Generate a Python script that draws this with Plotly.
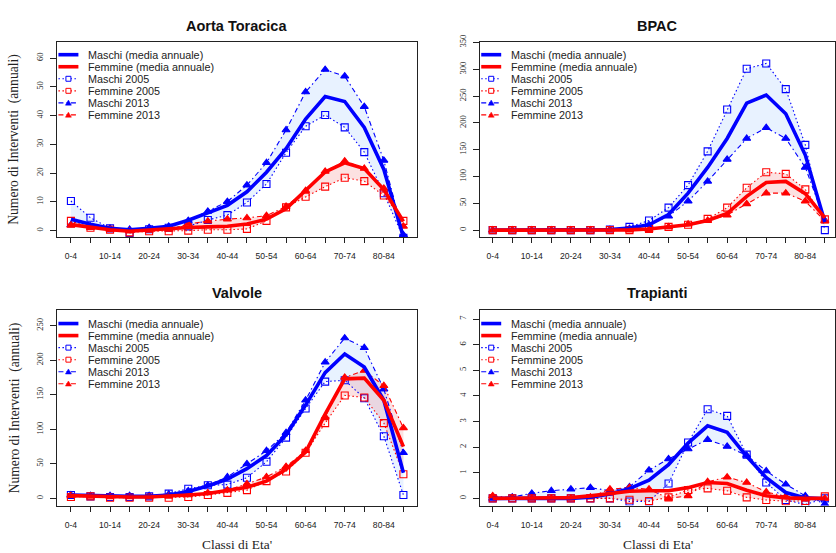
import plotly.graph_objects as go

# ---------------------------------------------------------------- data
age_groups = ["0-4", "5-9", "10-14", "15-19", "20-24", "25-29", "30-34", "35-39",
              "40-44", "45-49", "50-54", "55-59", "60-64", "65-69", "70-74",
              "75-79", "80-84", "85+"]
tick_labels = ["0-4", "", "10-14", "", "20-24", "", "30-34", "", "40-44", "",
               "50-54", "", "60-64", "", "70-74", "", "80-84", ""]

# Aorta Toracica
aorta_m_mean = [4.0, 2.2, 0.8, 0.3, 0.8, 1.5, 3.6, 6.1, 8.8, 13.5, 20.3, 28.5, 38.8, 46.6, 44.9, 35.9, 21.3, -2.3]
aorta_f_mean = [2.1, 1.2, 0.3, -0.2, 0.3, 0.6, 1.1, 1.3, 1.5, 2.3, 4.0, 7.6, 13.8, 20.4, 23.6, 21.6, 14.3, 3.2]
aorta_m_2005 = [10.3, 4.5, 0.8, -0.8, 0.5, 1.0, 1.5, 3.7, 5.4, 9.8, 16.2, 27.1, 36.3, 40.2, 35.9, 27.3, 13.0, -2.5]
aorta_f_2005 = [3.4, 1.0, 0.3, -0.6, -0.2, -0.2, 0.0, 0.3, 0.3, 0.6, 3.4, 8.1, 11.8, 15.3, 18.4, 17.2, 12.2, 3.4]
aorta_m_2013 = [2.0, 1.5, 0.8, 0.4, 1.0, 1.5, 3.5, 6.7, 10.1, 15.8, 23.6, 35.0, 48.2, 56.0, 53.7, 43.1, 24.4, -1.5]
aorta_f_2013 = [1.8, 1.0, 0.3, -0.2, 0.1, 0.4, 2.3, 3.3, 4.0, 4.4, 5.2, 8.4, 13.9, 20.6, 24.2, 21.6, 14.7, 1.5]

# BPAC
bpac_m_mean = [0, 0, 0, 0, 0, 0, 1, 4, 10, 29, 69, 117, 171, 237, 252, 217, 140, 15]
bpac_f_mean = [0, 0, 0, 0, 0, 0, 0, 0.5, 2, 6, 10, 18, 31, 63, 89, 91, 68, 23]
bpac_m_2005 = [0, 0, 0, 0, 0, 0, 1, 6, 18, 42, 84, 147, 225, 301, 311, 263, 159, 0]
bpac_f_2005 = [0, 0, 0, 0, 0, 0, 0, 0, 2, 6, 10, 21, 42, 79, 108, 105, 76, 20]
bpac_m_2013 = [0, 0, 0, 0, 0, 0, 1, 3, 10, 26, 54, 91, 132, 171, 191, 171, 117, 18]
bpac_f_2013 = [0, 0, 0, 0, 0, 0, 0, 0, 1, 6, 11, 18, 28, 49, 69, 69, 54, 17]

# Valvole
valv_m_mean = [5, 4, 3, 3, 3, 5, 10, 18, 28, 43, 62, 92, 135, 182, 209, 190, 142, 37]
valv_f_mean = [4, 3, 2, 2, 2, 3, 5, 7, 11, 16, 25, 42, 67, 122, 173, 174, 142, 75]
valv_m_2005 = [5, 3, 2, 2, 3, 7, 14, 19, 20, 30, 53, 88, 130, 169, 171, 145, 90, 5]
valv_f_2005 = [2, 3, 1, 1, 1, 1, 2, 5, 8, 12, 25, 39, 66, 109, 149, 146, 109, 35]
valv_m_2013 = [5, 4, 4, 4, 4, 6, 11, 19, 31, 50, 69, 95, 142, 197, 232, 218, 158, 66]
valv_f_2013 = [4, 3, 2, 2, 2, 3, 5, 8, 12, 21, 31, 46, 69, 118, 175, 185, 163, 102]

# Trapianti
trap_m_mean = [0, 0, 0, 0, 0, 0.05, 0.17, 0.38, 0.71, 1.32, 2.16, 2.83, 2.58, 1.64, 0.81, 0.23, 0.02, -0.02]
trap_f_mean = [0, 0, 0, 0, 0.03, 0.1, 0.18, 0.28, 0.3, 0.3, 0.42, 0.62, 0.58, 0.32, 0.1, 0.02, 0, 0]
trap_m_2005 = [0, 0, 0, 0, 0, 0, 0, -0.12, -0.12, 0.58, 2.18, 3.48, 3.22, 1.71, 0.62, -0.06, -0.24, 0]
trap_f_2005 = [0, 0, 0, 0, 0, 0, 0, -0.05, -0.1, 0.04, 0.33, 0.39, 0.3, 0.04, -0.06, -0.11, -0.1, 0.08]
trap_m_2013 = [0, 0.05, 0.2, 0.3, 0.36, 0.42, 0.3, 0.45, 1.1, 1.54, 1.93, 2.29, 2.03, 1.68, 1.07, 0.55, 0.1, -0.22]
trap_f_2013 = [0.1, 0.02, 0, 0, 0, 0.05, 0.36, 0.42, 0.36, 0, 0.1, 0.65, 0.83, 0.62, 0.25, 0.08, -0.03, 0]

legend_labels = ["Maschi (media annuale)", "Femmine (media annuale)", "Maschi 2005",
                 "Femmine 2005", "Maschi 2013", "Femmine 2013"]

# ---------------------------------------------------------------- layout helpers
W, H = 836, 553
BLUE, RED = "#0000FF", "#FF0000"
BLUE_FILL, RED_FILL = "rgba(100,170,255,0.15)", "rgba(235,80,80,0.17)"
DOT = "1.5px,2.5px"
DASHDOT = "5px,3px,1.5px,3px"
SANS = "Liberation Sans, Arial, sans-serif"
SERIF = "Liberation Serif, Times New Roman, serif"


def px(x):
    return x / W


def py(y):
    return 1 - y / H


# plot boxes in pixels: left, right, top, bottom
boxes = [(57, 417, 35, 233), (480.3, 836, 35, 233),
         (57, 417, 307.3, 505), (480.3, 836, 307.3, 505)]
x_ranges = [[-0.715, 17.67], [-0.665, 17.52], [-0.715, 17.67], [-0.665, 17.52]]
y_ranges = [[-2.23, 65.74], [-12.9, 351.8], [-10.4, 272.0], [-0.281, 7.335]]
y_ticks = [list(range(0, 61, 10)), list(range(0, 351, 50)),
           list(range(0, 251, 50)), list(range(0, 8))]

panels = [
    ("Aorta Toracica", aorta_m_mean, aorta_f_mean, aorta_m_2005, aorta_f_2005, aorta_m_2013, aorta_f_2013),
    ("BPAC", bpac_m_mean, bpac_f_mean, bpac_m_2005, bpac_f_2005, bpac_m_2013, bpac_f_2013),
    ("Valvole", valv_m_mean, valv_f_mean, valv_m_2005, valv_f_2005, valv_m_2013, valv_f_2013),
    ("Trapianti", trap_m_mean, trap_f_mean, trap_m_2005, trap_f_2005, trap_m_2013, trap_f_2013),
]

x_idx = list(range(len(age_groups)))
fig = go.Figure()
annotations = []
shapes = []

for p, (title, m_mean, f_mean, m05, f05, m13, f13) in enumerate(panels):
    xa = "x" if p == 0 else f"x{p + 1}"
    ya = "y" if p == 0 else f"y{p + 1}"
    common = dict(x=x_idx, xaxis=xa, yaxis=ya, showlegend=False, hoverinfo="skip")

    # shaded bands between the 2005 and 2013 curves
    fig.add_trace(go.Scatter(y=m05, mode="lines", line=dict(width=0), **common))
    fig.add_trace(go.Scatter(y=m13, mode="lines", line=dict(width=0), fill="tonexty",
                             fillcolor=BLUE_FILL, **common))
    fig.add_trace(go.Scatter(y=f05, mode="lines", line=dict(width=0), **common))
    fig.add_trace(go.Scatter(y=f13, mode="lines", line=dict(width=0), fill="tonexty",
                             fillcolor=RED_FILL, **common))

    # yearly curves
    for yy, col, dash, sym in [(m05, BLUE, DOT, "square-open"), (m13, BLUE, DASHDOT, "triangle-up"),
                               (f05, RED, DOT, "square-open"), (f13, RED, DASHDOT, "triangle-up")]:
        fig.add_trace(go.Scatter(y=yy, mode="lines+markers",
                                 line=dict(color=col, width=1.1, dash=dash),
                                 marker=dict(symbol=sym, size=7, color=col,
                                             line=dict(color=col, width=1.1)),
                                 **common))

    # annual means
    fig.add_trace(go.Scatter(y=m_mean, mode="lines", line=dict(color=BLUE, width=3.6), **common))
    fig.add_trace(go.Scatter(y=f_mean, mode="lines", line=dict(color=RED, width=3.6), **common))

    L, R, T, B = boxes[p]
    axis_common = dict(showgrid=False, zeroline=False, showline=True, linecolor="#222",
                       linewidth=1.2, mirror=True, ticks="outside", tickcolor="#222",
                       tickwidth=1)
    xkey = "xaxis" if p == 0 else f"xaxis{p + 1}"
    ykey = "yaxis" if p == 0 else f"yaxis{p + 1}"
    fig.layout[xkey] = dict(domain=[px(L), px(R)], range=x_ranges[p], anchor=ya,
                            tickmode="array", tickvals=x_idx, ticktext=tick_labels,
                            ticklen=5, ticklabelstandoff=6,
                            tickfont=dict(family=SANS, size=8.6, color="#222"),
                            **axis_common)
    fig.layout[ykey] = dict(domain=[py(B), py(T)], range=y_ranges[p], anchor=xa,
                            tickmode="array", tickvals=y_ticks[p], tickangle=-90,
                            ticklen=6, ticklabelstandoff=3,
                            tickfont=dict(family=SERIF, size=8.5, color="#222"),
                            **axis_common)

    # panel title
    annotations.append(dict(text=title, x=px((L + R) / 2), y=py(19 if p < 2 else 290),
                            xref="paper", yref="paper", showarrow=False,
                            xanchor="center", yanchor="middle",
                            font=dict(family=SANS, size=14.5, color="#111", weight="bold")))

    # legend box contents
    styles = [(BLUE, None, 3.6, None), (RED, None, 3.6, None),
              (BLUE, "dot", 1.1, "square"), (RED, "dot", 1.1, "square"),
              (BLUE, "dashdot", 1.1, "triangle"), (RED, "dashdot", 1.1, "triangle")]
    for k, (label, (col, dash, lw, mk)) in enumerate(zip(legend_labels, styles)):
        ry = T + 13.3 + k * 12.2
        kx0, kx1 = L + 1.5, L + 21.5
        cx = (kx0 + kx1) / 2
        shapes.append(dict(type="line", xref="paper", yref="paper",
                           x0=px(kx0), x1=px(kx1), y0=py(ry), y1=py(ry),
                           line=dict(color=col, width=lw,
                                     dash=(DOT if dash == "dot" else DASHDOT) if dash else "solid")))
        if mk == "square":
            shapes.append(dict(type="rect", xref="paper", yref="paper",
                               x0=px(cx - 2.5), x1=px(cx + 2.5), y0=py(ry + 2.5), y1=py(ry - 2.5),
                               fillcolor="white", line=dict(color=col, width=1)))
        elif mk == "triangle":
            path = (f"M {px(cx - 3)},{py(ry + 2.3)} L {px(cx + 3)},{py(ry + 2.3)} "
                    f"L {px(cx)},{py(ry - 2.8)} Z")
            shapes.append(dict(type="path", xref="paper", yref="paper", path=path,
                               fillcolor=col, line=dict(color=col, width=0.5)))
        annotations.append(dict(text=label, x=px(L + 29.5), y=py(ry), xref="paper", yref="paper",
                                showarrow=False, xanchor="left", yanchor="middle",
                                font=dict(family=SANS, size=10.8, color="#222")))

# axis titles
for yc in (134, 406):
    annotations.append(dict(text="Numero di Interventi\u00a0 (annuali)", x=px(14.5), y=py(yc),
                            xref="paper", yref="paper", showarrow=False, textangle=-90,
                            xanchor="center", yanchor="middle",
                            font=dict(family=SERIF, size=13.6, color="#222")))
for xc in (237, 658.5):
    annotations.append(dict(text="Classi di Eta'", x=px(xc), y=py(544.5),
                            xref="paper", yref="paper", showarrow=False,
                            xanchor="center", yanchor="middle",
                            font=dict(family=SERIF, size=13.4, color="#222")))

fig.update_layout(width=W, height=H, autosize=False,
                  margin=dict(l=0, r=0, t=0, b=0, pad=0),
                  paper_bgcolor="white", plot_bgcolor="white",
                  showlegend=False, annotations=annotations, shapes=shapes)

fig.write_html("out.html")
